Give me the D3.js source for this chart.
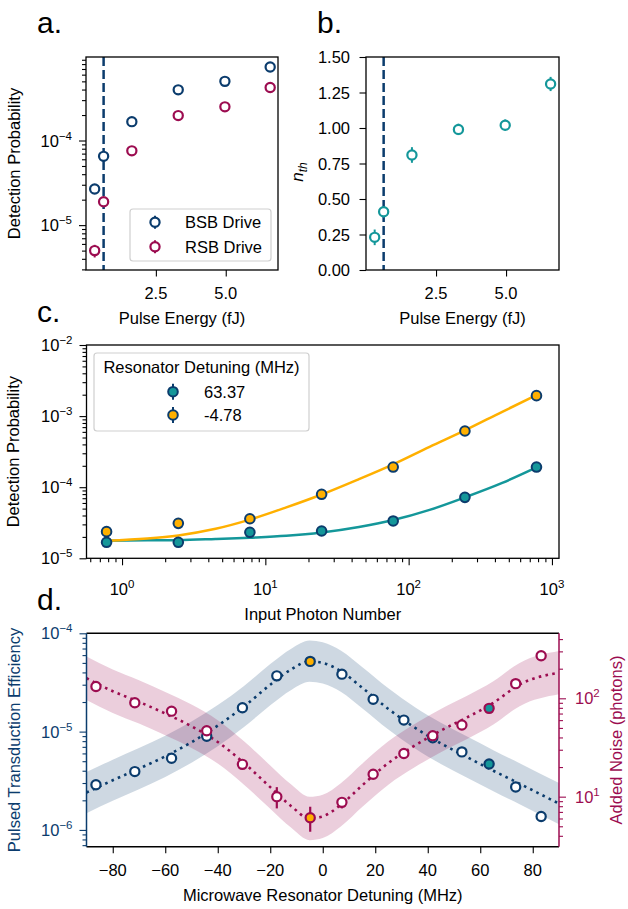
<!DOCTYPE html>
<html>
<head>
<meta charset="utf-8">
<script src="https://cdn.jsdelivr.net/npm/d3@7"></script>
<style>
  body { margin: 0; background: #fff; }
  svg text { font-family: "Liberation Sans", Arial, sans-serif; }
</style>
</head>
<body>
<div id="fig"></div>
<script>
// ---- a/b: pulse energy sweep
const energy = [0.31, 0.63, 1.64, 3.30, 4.97, 6.59];
const bsbProb = [2.67e-5, 6.5e-5, 1.67e-4, 3.97e-4, 5.0e-4, 7.4e-4];
const bsbErr = [1.2e-6, 2.5e-6, 4e-6, 7e-6, 9e-6, 1.3e-5];
const rsbProb = [5.0e-6, 1.89e-5, 7.55e-5, 1.97e-4, 2.5e-4, 4.23e-4];
const rsbErr = [0.85e-6, 1.3e-6, 2.5e-6, 5e-6, 6e-6, 9e-6];
const nth = [0.23, 0.41, 0.81, 0.99, 1.02, 1.31];
const nthErr = [0.055, 0.04, 0.055, 0.04, 0.04, 0.05];
const thresholdEnergy = 0.63;
const energyTicks = [2.5, 5.0];
const nthTicks = [0, 0.25, 0.5, 0.75, 1.0, 1.25, 1.5];

// ---- c: photon number sweep
const photons = [0.78, 2.47, 7.8, 24.7, 78, 247, 780];
const probFar = [1.68e-5, 1.68e-5, 2.32e-5, 2.42e-5, 3.35e-5, 7.2e-5, 1.92e-4];   // 63.37 MHz
const probNear = [2.37e-5, 3.1e-5, 3.6e-5, 7.95e-5, 1.92e-4, 6.17e-4, 1.94e-3];  // -4.78 MHz
const probErrFrac = [0.06, 0.06, 0.05, 0.05, 0.04, 0.04, 0.03];
const fitX = [0.78, 1.5, 2.47, 4.5, 7.8, 14, 24.7, 45, 78, 140, 247, 450, 780];
const fitFar = [1.77e-5, 1.79e-5, 1.8e-5, 1.87e-5, 1.95e-5, 2.07e-5, 2.3e-5, 2.75e-5, 3.45e-5, 4.8e-5, 7.2e-5, 1.15e-4, 1.9e-4];
const fitNear = [1.77e-5, 1.9e-5, 2.1e-5, 2.6e-5, 3.5e-5, 5.2e-5, 7.9e-5, 1.3e-4, 2.1e-4, 3.7e-4, 6.3e-4, 1.15e-3, 1.97e-3];
const detuningLabels = ['63.37', '-4.78'];

// ---- d: detuning sweep
const detuning = [-86.4, -71.6, -57.6, -44.2, -30.6, -17.5, -4.78, 7.3, 19.2, 30.9, 41.9, 53.0, 63.37, 73.5, 83.2];
const efficiency = [2.88e-6, 3.92e-6, 5.36e-6, 8.98e-6, 1.75e-5, 3.69e-5, 5.18e-5, 3.84e-5, 2.13e-5, 1.31e-5, 8.65e-6, 6.22e-6, 4.69e-6, 2.73e-6, 1.37e-6];
const noise = [132, 90, 74, 46.8, 21.3, 10.0, 6.1, 8.75, 16.9, 27.5, 41.7, 53.5, 79, 141, 271];
const noiseLo = [128, 87, 71, 45, 20.3, 7.6, 4.4, 7.6, 16, 26.3, 40, 51.5, 76, 137, 265];
const noiseHi = [136, 93, 77, 49, 22.3, 12.5, 7.9, 9.9, 17.8, 28.7, 43.5, 55.5, 82, 145, 277];
const modelDet = [-90, -80, -70, -60, -50, -40, -30, -20, -12, -5, 0, 7, 15, 25, 35, 45, 55, 65, 75, 90];
const modelEff = [2.4e-6, 3.2e-6, 4.2e-6, 5.6e-6, 7.8e-6, 1.15e-5, 1.8e-5, 3.0e-5, 4.3e-5, 5.2e-5, 5.0e-5, 4.1e-5, 2.8e-5, 1.7e-5, 1.1e-5, 7.6e-6, 5.5e-6, 4.0e-6, 2.95e-6, 1.85e-6];
const modelNoise = [160, 118, 92, 70, 52, 36, 22, 12.5, 8, 6.0, 6.3, 8.3, 13, 22, 33, 47, 64, 90, 138, 182];
const effBand = 1.62, noiseBand = 1.66;   // multiplicative width of shaded bands
const detTicks = [-80, -60, -40, -20, 0, 20, 40, 60, 80];

const navy = '#0b3c6d', crimson = '#9c0c50', teal = '#14979a', gold = '#ffb000';
const FS = '16.5px';

const svg = d3.select('#fig').append('svg').attr('width', 628).attr('height', 909);

// panel boxes
const PA = { l: 86, r: 278, t: 57, b: 270 };
const PB = { l: 366, r: 559, t: 57, b: 270 };
const PC = { l: 86.5, r: 559, t: 345, b: 558.3 };
const PD = { l: 86.5, r: 559, t: 633.3, b: 846.7 };

function decades(scale) {
  const [lo, hi] = scale.domain();
  const major = [], minor = [];
  for (let e = Math.floor(Math.log10(lo)); e <= Math.ceil(Math.log10(hi)); e++) {
    const p = Math.pow(10, e);
    if (p >= lo * 0.999 && p <= hi * 1.001) major.push(p);
    for (let k = 2; k < 10; k++) if (k * p >= lo && k * p <= hi) minor.push(k * p);
  }
  return { major, minor };
}

function ticks(axisFn, scale, values, size, transform, color) {
  const g = svg.append('g').attr('transform', transform)
    .call(axisFn(scale).tickValues(values).tickSize(size).tickFormat(''));
  g.select('.domain').remove();
  g.selectAll('line').attr('stroke', color || '#000').attr('stroke-width', 1.1);
}

function powLabel(x, y, v, anchor, color) {
  const e = Math.round(Math.log10(v));
  const t = svg.append('text').attr('x', x).attr('y', y).attr('text-anchor', anchor)
    .attr('fill', color || '#000').style('font-size', FS);
  t.append('tspan').text('10');
  t.append('tspan').attr('dy', -7).style('font-size', '11.5px').text(e < 0 ? '\u2212' + (-e) : e);
}

function text(x, y, s, anchor, opts = {}) {
  const t = svg.append('text').attr('x', x).attr('y', y).attr('text-anchor', anchor || 'start')
    .attr('fill', opts.color || '#000').style('font-size', opts.size || FS).text(s);
  if (opts.rotate) t.attr('transform', `rotate(-90,${x},${y})`);
  return t;
}

function frame(P) {
  svg.append('rect').attr('x', P.l).attr('y', P.t).attr('width', P.r - P.l).attr('height', P.b - P.t)
    .attr('fill', 'none').attr('stroke', '#000').attr('stroke-width', 1.3);
}

function leftLogAxis(P, y, color) {
  const d = decades(y);
  ticks(d3.axisLeft, y, d.minor, 4, `translate(${P.l},0)`, color);
  ticks(d3.axisLeft, y, d.major, 7, `translate(${P.l},0)`, color);
  d.major.forEach(v => powLabel(P.l - 14, y(v) + 6, v, 'end', color));
}

function errBars(xs, ys, lo, hi, color, w) {
  svg.append('g').selectAll('line').data(xs).join('line')
    .attr('x1', d => d).attr('x2', d => d)
    .attr('y1', (d, i) => lo[i]).attr('y2', (d, i) => hi[i])
    .attr('stroke', color).attr('stroke-width', w || 2);
}

function circles(xs, ys, fill, stroke, r, sw) {
  svg.append('g').selectAll('circle').data(xs).join('circle')
    .attr('cx', d => d).attr('cy', (d, i) => ys[i]).attr('r', r)
    .attr('fill', (d, i) => typeof fill === 'function' ? fill(i) : fill)
    .attr('stroke', stroke).attr('stroke-width', sw);
}

function legendBox(x, y, w, h) {
  svg.append('rect').attr('x', x).attr('y', y).attr('width', w).attr('height', h).attr('rx', 3)
    .attr('fill', '#fff').attr('fill-opacity', 0.85).attr('stroke', '#cfcfcf').attr('stroke-width', 1.2);
}

// ================= panel a
const xa = d3.scaleLinear().domain([0, 6.87]).range([PA.l, PA.r]);
const ya = d3.scaleLog().domain([2.95e-6, 9.7e-4]).range([PA.b, PA.t]);
svg.append('line').attr('x1', xa(thresholdEnergy)).attr('x2', xa(thresholdEnergy))
  .attr('y1', PA.t).attr('y2', PA.b).attr('stroke', navy).attr('stroke-width', 2.5).attr('stroke-dasharray', '9,4');
errBars(energy.map(xa), bsbProb.map(ya), bsbProb.map((v, i) => ya(v - bsbErr[i])), bsbProb.map((v, i) => ya(v + bsbErr[i])), navy);
errBars(energy.map(xa), rsbProb.map(ya), rsbProb.map((v, i) => ya(v - rsbErr[i])), rsbProb.map((v, i) => ya(v + rsbErr[i])), crimson);
circles(energy.map(xa), bsbProb.map(ya), '#fff', navy, 4.6, 2.2);
circles(energy.map(xa), rsbProb.map(ya), '#fff', crimson, 4.6, 2.2);
frame(PA);
leftLogAxis(PA, ya);
ticks(d3.axisBottom, xa, energyTicks, 6.5, `translate(0,${PA.b})`);
energyTicks.forEach(v => text(xa(v), PA.b + 29, v.toFixed(1), 'middle'));
text((PA.l + PA.r) / 2, 324, 'Pulse Energy (fJ)', 'middle');
text(19.5, (PA.t + PA.b) / 2, 'Detection Probability', 'middle', { rotate: true });
legendBox(130, 209, 141, 52);
[['BSB Drive', navy, 222.3], ['RSB Drive', crimson, 246.7]].forEach(([lab, c, yy]) => {
  svg.append('line').attr('x1', 155).attr('x2', 155).attr('y1', yy - 6.5).attr('y2', yy + 6.5).attr('stroke', c).attr('stroke-width', 2);
  svg.append('circle').attr('cx', 155).attr('cy', yy).attr('r', 4.6).attr('fill', '#fff').attr('stroke', c).attr('stroke-width', 2.2);
  text(185, yy + 6, lab);
});
text(37, 33, 'a.', 'start', { size: '30px' });

// ================= panel b
const xb = d3.scaleLinear().domain([0, 6.89]).range([PB.l, PB.r]);
const yb = d3.scaleLinear().domain([0, 1.5]).range([PB.b, PB.t]);
svg.append('line').attr('x1', xb(thresholdEnergy)).attr('x2', xb(thresholdEnergy))
  .attr('y1', PB.t).attr('y2', PB.b).attr('stroke', navy).attr('stroke-width', 2.5).attr('stroke-dasharray', '9,4');
errBars(energy.map(xb), nth.map(yb), nth.map((v, i) => yb(v - nthErr[i])), nth.map((v, i) => yb(v + nthErr[i])), teal);
circles(energy.map(xb), nth.map(yb), '#fff', teal, 4.6, 2.2);
frame(PB);
ticks(d3.axisLeft, yb, nthTicks, 6.5, `translate(${PB.l},0)`);
nthTicks.forEach(v => text(PB.l - 16, yb(v) + 6, v.toFixed(2), 'end'));
ticks(d3.axisBottom, xb, energyTicks, 6.5, `translate(0,${PB.b})`);
energyTicks.forEach(v => text(xb(v), PB.b + 29, v.toFixed(1), 'middle'));
text((PB.l + PB.r) / 2, 324, 'Pulse Energy (fJ)', 'middle');
const nl = svg.append('text').attr('transform', `translate(303,172) rotate(-90)`).attr('text-anchor', 'middle')
  .style('font-size', '17px').style('font-style', 'italic');
nl.append('tspan').text('n');
nl.append('tspan').attr('dy', 4).style('font-size', '12px').text('th');
text(317, 33, 'b.', 'start', { size: '30px' });

// ================= panel c
const xc = d3.scaleLog().domain([0.565, 1120]).range([PC.l, PC.r]);
const yc = d3.scaleLog().domain([1e-5, 1e-2]).range([PC.b, PC.t]);
const fitLine = d3.line().x(d => xc(d[0])).y(d => yc(d[1])).curve(d3.curveMonotoneX);
svg.append('path').attr('d', fitLine(fitX.map((x, i) => [x, fitFar[i]])))
  .attr('fill', 'none').attr('stroke', teal).attr('stroke-width', 2.5);
svg.append('path').attr('d', fitLine(fitX.map((x, i) => [x, fitNear[i]])))
  .attr('fill', 'none').attr('stroke', gold).attr('stroke-width', 2.5);
[probNear, probFar].forEach(p => errBars(photons.map(xc), p.map(yc),
  p.map((v, i) => yc(v * (1 - probErrFrac[i]))), p.map((v, i) => yc(v * (1 + probErrFrac[i]))), navy));
circles(photons.map(xc), probNear.map(yc), gold, navy, 4.8, 2);
circles(photons.map(xc), probFar.map(yc), teal, navy, 4.8, 2);
frame(PC);
leftLogAxis(PC, yc);
const dc = decades(xc);
ticks(d3.axisBottom, xc, dc.minor, 4, `translate(0,${PC.b})`);
ticks(d3.axisBottom, xc, dc.major, 7, `translate(0,${PC.b})`);
dc.major.forEach(v => powLabel(xc(v), PC.b + 37, v, 'middle'));
text((PC.l + PC.r) / 2, 620, 'Input Photon Number', 'middle');
text(19.5, (PC.t + PC.b) / 2, 'Detection Probability', 'middle', { rotate: true });
legendBox(94, 353, 215, 78);
text(201.5, 373, 'Resonator Detuning (MHz)', 'middle');
[[teal, 391.7], [gold, 415]].forEach(([c, yy], i) => {
  svg.append('line').attr('x1', 173).attr('x2', 173).attr('y1', yy - 8).attr('y2', yy + 8).attr('stroke', navy).attr('stroke-width', 2);
  svg.append('circle').attr('cx', 173).attr('cy', yy).attr('r', 4.8).attr('fill', c).attr('stroke', navy).attr('stroke-width', 2);
  text(204, yy + 6, detuningLabels[i]);
});
text(37, 322, 'c.', 'start', { size: '30px' });

// ================= panel d
const xd = d3.scaleLinear().domain([-90, 90]).range([PD.l, PD.r]);
const yl = d3.scaleLog().domain([6.75e-7, 1e-4]).range([PD.b, PD.t]);
const yr = d3.scaleLog().domain([3.1, 458]).range([PD.b, PD.t]);
const band = (y, f) => d3.area().x(d => xd(d[0])).y0(d => y(d[1] / f)).y1(d => y(d[1] * f)).curve(d3.curveMonotoneX);
const model = y => d3.line().x(d => xd(d[0])).y(d => y(d[1])).curve(d3.curveMonotoneX);
const effModel = modelDet.map((x, i) => [x, modelEff[i]]);
const noiseModel = modelDet.map((x, i) => [x, modelNoise[i]]);
svg.append('path').attr('d', band(yl, effBand)(effModel)).attr('fill', navy).attr('fill-opacity', 0.2);
svg.append('path').attr('d', band(yr, noiseBand)(noiseModel)).attr('fill', crimson).attr('fill-opacity', 0.2);
svg.append('path').attr('d', model(yl)(effModel)).attr('fill', 'none').attr('stroke', navy)
  .attr('stroke-width', 2.6).attr('stroke-dasharray', '2.6,4.3');
svg.append('path').attr('d', model(yr)(noiseModel)).attr('fill', 'none').attr('stroke', crimson)
  .attr('stroke-width', 2.6).attr('stroke-dasharray', '2.6,4.3');
const special = i => detuning[i] === -4.78 ? gold : detuning[i] === 63.37 ? teal : '#fff';
errBars(detuning.map(xd), efficiency.map(yl), efficiency.map(v => yl(v * 0.95)), efficiency.map(v => yl(v * 1.05)), navy);
circles(detuning.map(xd), efficiency.map(yl), special, navy, 4.6, 2.2);
errBars(detuning.map(xd), noise.map(yr), noiseLo.map(yr), noiseHi.map(yr), crimson, 2.2);
circles(detuning.map(xd), noise.map(yr), special, crimson, 4.6, 2.2);
// spines
[[PD.l, PD.t, PD.r, PD.t, '#000'], [PD.l, PD.b, PD.r, PD.b, '#000'], [PD.l, PD.t, PD.l, PD.b, navy], [PD.r, PD.t, PD.r, PD.b, crimson]]
  .forEach(([x1, y1, x2, y2, c]) => svg.append('line').attr('x1', x1).attr('y1', y1).attr('x2', x2).attr('y2', y2)
    .attr('stroke', c).attr('stroke-width', 1.5));
leftLogAxis(PD, yl, navy);
const dr = decades(yr);
ticks(d3.axisRight, yr, dr.minor, 4, `translate(${PD.r},0)`, crimson);
ticks(d3.axisRight, yr, dr.major, 7, `translate(${PD.r},0)`, crimson);
dr.major.forEach(v => powLabel(PD.r + 16, yr(v) + 6, v, 'start', crimson));
ticks(d3.axisBottom, xd, detTicks, 6.5, `translate(0,${PD.b})`);
detTicks.forEach(v => text(xd(v), PD.b + 29, v < 0 ? '\u2212' + (-v) : String(v), 'middle'));
text((PD.l + PD.r) / 2, 901, 'Microwave Resonator Detuning (MHz)', 'middle');
text(19.5, (PD.t + PD.b) / 2, 'Pulsed Transduction Efficiency', 'middle', { rotate: true, color: navy });
text(622, (PD.t + PD.b) / 2, 'Added Noise (photons)', 'middle', { rotate: true, color: crimson });
text(37, 610, 'd.', 'start', { size: '30px' });
</script>
</body>
</html>
